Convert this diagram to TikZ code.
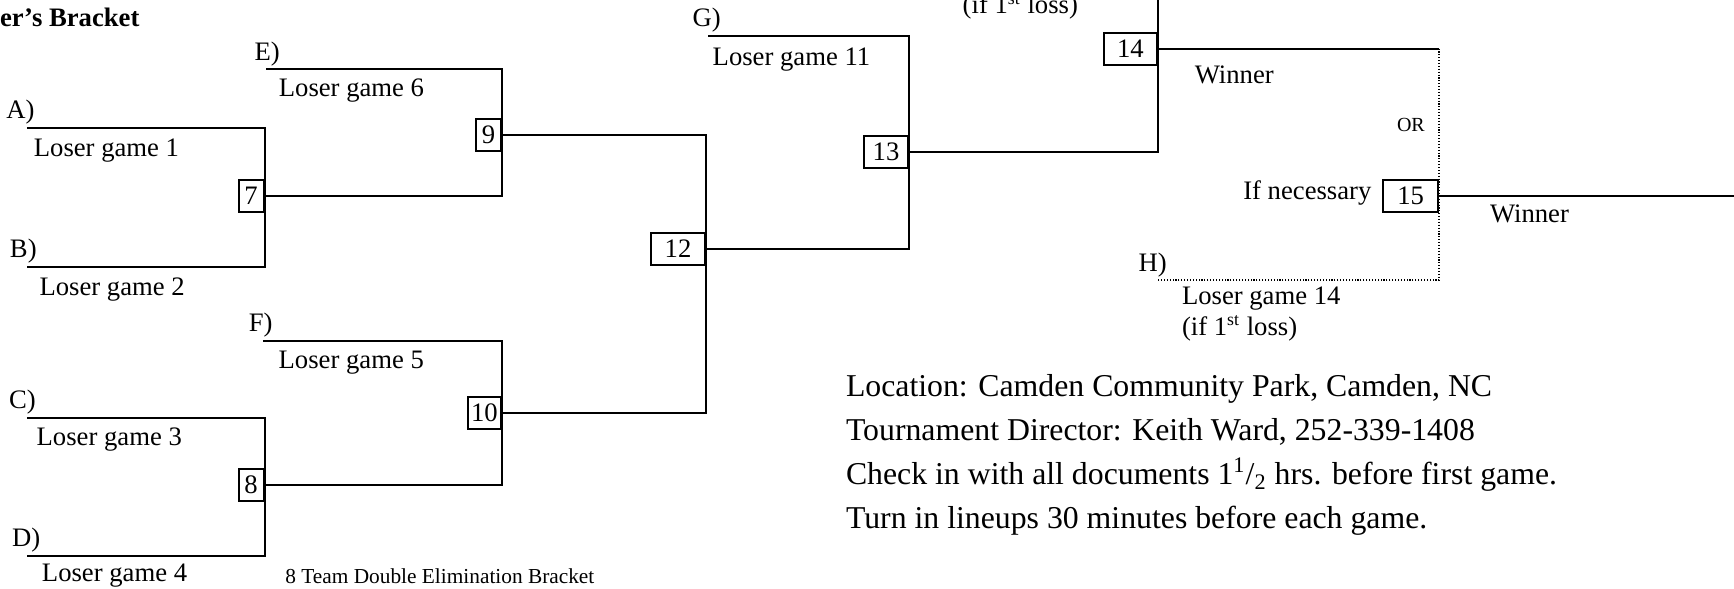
\documentclass[tikz,border=0pt]{standalone}
\usepackage{fontspec}
\setmainfont{Liberation Serif}

\begin{document}
\begin{tikzpicture}[
        x=0.45pt, y=-0.45pt,
        line width=0.9pt,
        game/.style={rectangle, draw, minimum height=14.4pt, inner sep=0pt, anchor=east, font=\fontsize{12}{14}\selectfont},
        lbl/.style={anchor=base west, inner sep=0pt, font=\fontsize{12}{14}\selectfont},
        info/.style={anchor=base west, inner sep=0pt, font=\fontsize{14.3}{17}\selectfont},
        maybe/.style={line width=0.6pt, dash pattern=on 0.5pt off 0.8pt}
      ]
      \useasboundingbox (0,0) rectangle (1734,588);
      \clip (0,0) rectangle (1734,588);

      % Game boxes
      \node[game, minimum width=11.25pt] (g7) at (264.5,195.5) {7};
      \node[game, minimum width=11.25pt] (g8) at (264.5,484.5) {8};
      \node[game, minimum width=11.25pt] (g9) at (502,134.5) {9};
      \node[game, minimum width=15pt] (g10) at (502,413) {10};
      \node[game, minimum width=24.6pt] (g12) at (706.4,249) {12};
      \node[game, minimum width=19.8pt] (g13) at (909,151.5) {13};
      \node[game, minimum width=23.6pt] (g14) at (1157.6,48.5) {14};
      \node[game, minimum width=24.6pt] (g15) at (1439,196) {15};

      % Team entry points
      \coordinate (tA) at (26.8,128.3);
      \coordinate (tB) at (26.8,266.7);
      \coordinate (tC) at (26.8,417.7);
      \coordinate (tD) at (26.8,555.7);
      \coordinate (tE) at (266,69);
      \coordinate (tF) at (263.4,341);
      \coordinate (tG) at (708.3,36);
      \coordinate (tH) at (1156.6,280);
      \coordinate (l13) at (1157.6,-5);
      \coordinate (champ) at (1740,196);

      % Connections
      \draw (tA) -| (g7.east) |- (tB);
      \draw (tC) -| (g8.east) |- (tD);
      \draw (tE) -| (g9.east) |- (g7.east);
      \draw (tF) -| (g10.east) |- (g8.east);
      \draw (g9.east) -| (g12.east) |- (g10.east);
      \draw (tG) -| (g13.east) |- (g12.east);
      \draw (l13) -- (g14.east) |- (g13.east);
      \draw (g14.east) -- (g14.east -| g15.east);
      \draw[maybe] (g14.east -| g15.east) -- (g15.east) |- (tH);
      \draw (g15.east) -- (champ);

      % Team labels
      \node[lbl, font=\bfseries\fontsize{12}{14}\selectfont] (title) at (-1,26.7) {er’s Bracket};
      \node[lbl] (la) at (5.4,118.3) {A)};
      \node[lbl] (lb) at (9,257.3) {B)};
      \node[lbl] (lc) at (8,408.3) {C)};
      \node[lbl] (ld) at (11,546.7) {D)};
      \node[lbl] (le) at (253.6,60) {E)};
      \node[lbl] (lf) at (247.8,331.7) {F)};
      \node[lbl] (lg) at (691.7,26.7) {G)};
      \node[lbl] (lh) at (1137.5,271) {H)};
      \node[lbl] (lg1) at (32.9,156.7) {Loser game 1};
      \node[lbl] (lg2) at (38.6,295) {Loser game 2};
      \node[lbl] (lg3) at (35.7,445) {Loser game 3};
      \node[lbl] (lg4) at (41,581.7) {Loser game 4};
      \node[lbl] (lg6) at (277.9,96.7) {Loser game 6};
      \node[lbl] (lg5) at (277.7,368.3) {Loser game 5};
      \node[lbl] (lg11) at (711.7,65) {Loser game 11};
      \node[lbl] (first13) at (961.7,14) {(if 1\textsuperscript{st} loss)};
      \node[lbl] (win14) at (1193.8,83.3) {Winner};
      \node[lbl, font=\fontsize{9}{11}\selectfont] (or) at (1396,131) {OR};
      \node[lbl] (ifnec) at (1242.3,199.3) {If necessary};
      \node[lbl] (win15) at (1489,222.7) {Winner};
      \node[lbl] (lg14) at (1181,304) {Loser game 14};
      \node[lbl] (first14) at (1181,335) {(if 1\textsuperscript{st} loss)};
      \node[lbl, font=\fontsize{9.6}{11.5}\selectfont] (caption) at (284.4,583.3) {8 Team Double Elimination Bracket};

      % Tournament info
      \node[info] (loc) at (845,396.5) {Location: Camden Community Park, Camden, NC};
      \node[info] (dir) at (845,440.5) {Tournament Director: Keith Ward, 252-339-1408};
      \node[info] (check) at (845,484.5) {Check in with all documents 1\textsuperscript{1}/\textsubscript{2} hrs. before first game.};
      \node[info] (lineup) at (845,528.5) {Turn in lineups 30 minutes before each game.};

    \end{tikzpicture}
\end{document}
